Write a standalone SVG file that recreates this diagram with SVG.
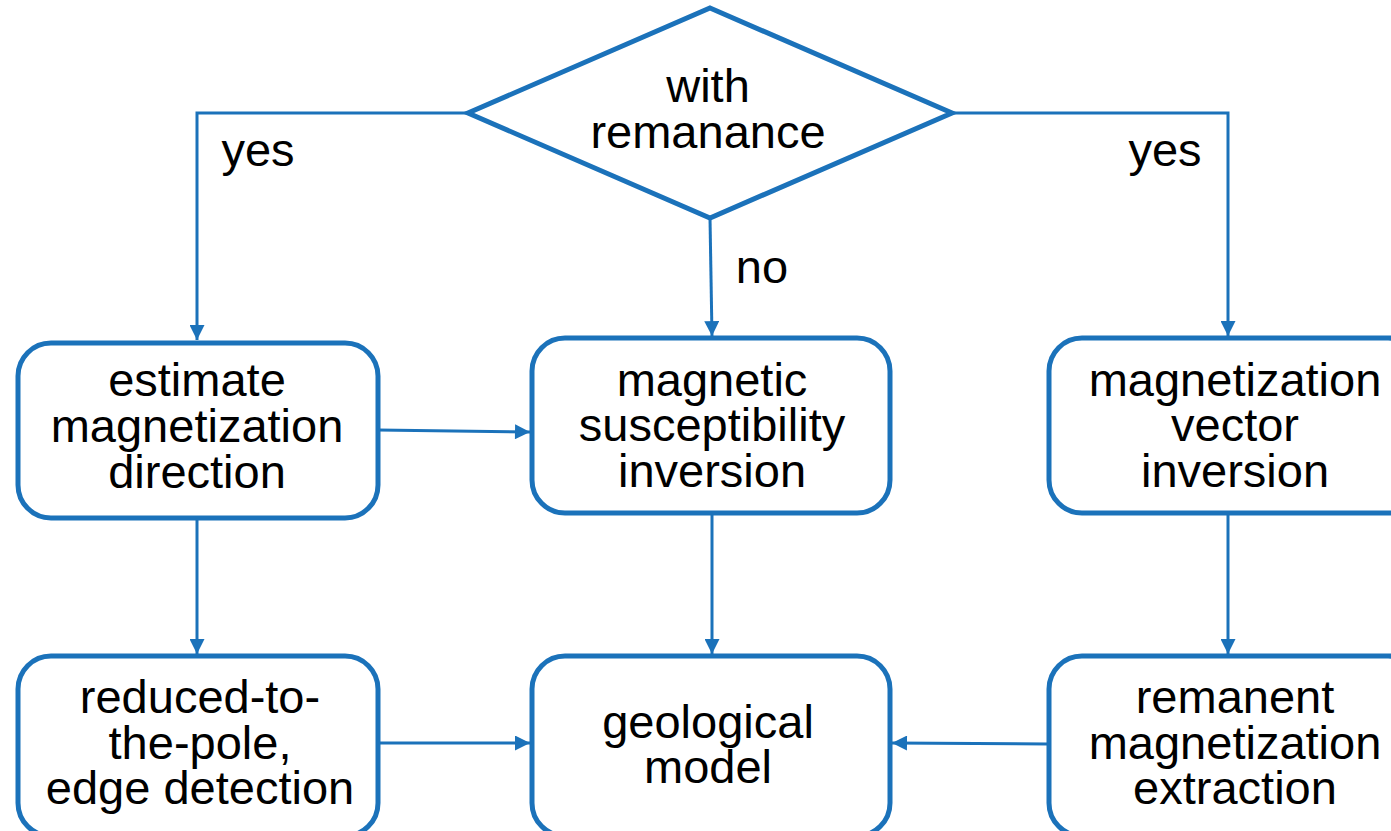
<svg xmlns="http://www.w3.org/2000/svg" width="1391" height="831" viewBox="0 0 1391 831">
<style>
.box{fill:#fff;stroke:#1B72BA;stroke-width:5}
.c{fill:none;stroke:#1B72BA;stroke-width:3}
text{font-family:"Liberation Sans",Arial,sans-serif;font-size:47px;fill:#000;text-anchor:middle}
</style>
<defs>
<marker id="ah" viewBox="0 0 10 10" refX="10" refY="5" markerWidth="6" markerHeight="5" markerUnits="strokeWidth" orient="auto">
<path d="M0,0L10,5L0,10z" fill="#1B72BA"/>
</marker>
</defs>
<rect width="1391" height="831" fill="#fff"/>
<g id="connectors">
<polyline class="c" points="468,113 197,113 197,340" marker-end="url(#ah)"/>
<polyline class="c" points="952,113 1228,113 1228,336" marker-end="url(#ah)"/>
<line class="c" x1="710" y1="218" x2="712" y2="336" marker-end="url(#ah)"/>
<line class="c" x1="378" y1="430" x2="530" y2="432" marker-end="url(#ah)"/>
<line class="c" x1="197" y1="518" x2="197" y2="654" marker-end="url(#ah)"/>
<line class="c" x1="712" y1="513" x2="712" y2="654" marker-end="url(#ah)"/>
<line class="c" x1="1228" y1="513" x2="1228" y2="654" marker-end="url(#ah)"/>
<line class="c" x1="378" y1="743" x2="530" y2="743" marker-end="url(#ah)"/>
<line class="c" x1="1048" y1="744" x2="892" y2="743" marker-end="url(#ah)"/>
<text x="258" y="166">yes</text>
<text x="1165" y="166">yes</text>
<text x="762" y="283">no</text>
</g>
<g id="decision">
<polygon class="box" points="710,8 952,113 710,218 468,113"/>
<text x="708" y="102">with</text>
<text x="708" y="148">remanance</text>
</g>
<g id="estimate">
<rect class="box" x="18" y="343" width="360" height="175" rx="33"/>
<text x="197" y="396">estimate</text>
<text x="197" y="442">magnetization</text>
<text x="197" y="488">direction</text>
</g>
<g id="susceptibility">
<rect class="box" x="532" y="338" width="358" height="175" rx="33"/>
<text x="712" y="396">magnetic</text>
<text x="712" y="441">susceptibility</text>
<text x="712" y="487">inversion</text>
</g>
<g id="mvi">
<rect class="box" x="1049" y="338" width="372" height="175" rx="33"/>
<text x="1235" y="396">magnetization</text>
<text x="1235" y="441">vector</text>
<text x="1235" y="487">inversion</text>
</g>
<g id="rtp">
<rect class="box" x="18" y="656" width="360" height="180" rx="33"/>
<text x="200" y="713">reduced-to-</text>
<text x="200" y="759">the-pole,</text>
<text x="200" y="804">edge detection</text>
</g>
<g id="geological">
<rect class="box" x="532" y="656" width="358" height="180" rx="33"/>
<text x="708" y="738">geological</text>
<text x="708" y="783">model</text>
</g>
<g id="extraction">
<rect class="box" x="1049" y="656" width="372" height="180" rx="33"/>
<text x="1235" y="713">remanent</text>
<text x="1235" y="759">magnetization</text>
<text x="1235" y="804">extraction</text>
</g>
</svg>
